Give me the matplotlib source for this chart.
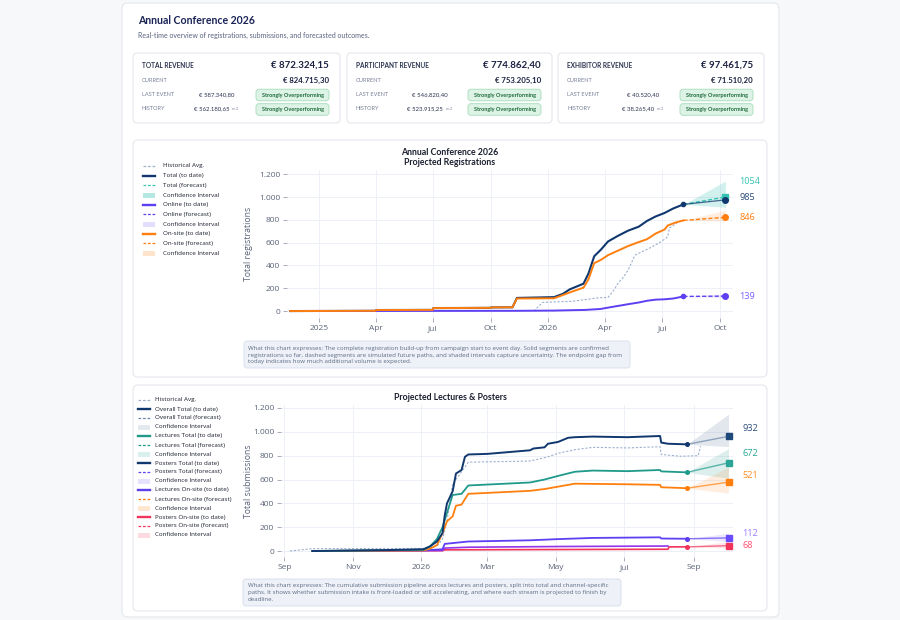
import numpy as np
import pandas as pd
import matplotlib
matplotlib.use("Agg")
import matplotlib.pyplot as plt
from matplotlib.patches import FancyBboxPatch, Rectangle
from matplotlib.lines import Line2D
from matplotlib.transforms import Affine2D
from matplotlib.ticker import FuncFormatter

plt.rcParams['font.family'] = ['Open Sans', 'DejaVu Sans']
HEAD = ['Lato', 'DejaVu Sans']

# ---- KPI cards
card_titles = ["TOTAL REVENUE", "PARTICIPANT REVENUE", "EXHIBITOR REVENUE"]
card_totals = ["€ 872.324,15", "€ 774.862,40", "€ 97.461,75"]
card_current = ["€ 824.715,30", "€ 753.205,10", "€ 71.510,20"]
card_last = ["€ 587.340,80", "€ 546.820,40", "€ 40.520,40"]
card_history = ["€ 562.180,65", "€ 523.915,25", "€ 38.265,40"]
badge_text = "Strongly Overperforming"

# ---- chart 1: registrations
reg_total_dates = ["2024-11-16", "2025-04-01", "2025-04-02", "2025-07-01", "2025-07-02",
                   "2025-10-01", "2025-10-02", "2025-11-05", "2025-11-12", "2026-01-10",
                   "2026-01-24", "2026-02-04", "2026-02-15", "2026-02-26", "2026-03-06",
                   "2026-03-15", "2026-03-26", "2026-04-06", "2026-04-22", "2026-05-08",
                   "2026-05-25", "2026-06-07", "2026-06-21", "2026-07-05", "2026-07-19",
                   "2026-08-04"]
reg_total = [0, 2, 9, 10, 26, 28, 32, 33, 115, 122, 150, 190, 215, 240, 330, 480, 540,
             610, 660, 705, 740, 790, 830, 860, 900, 935]

reg_onsite_dates = ["2024-11-16", "2025-04-01", "2025-04-02", "2025-07-01", "2025-07-02",
                    "2025-10-01", "2025-10-02", "2025-11-05", "2025-11-12", "2026-01-10",
                    "2026-01-24", "2026-02-10", "2026-02-26", "2026-03-06", "2026-03-15",
                    "2026-03-26", "2026-04-06", "2026-04-22", "2026-05-08", "2026-05-25",
                    "2026-06-07", "2026-06-21", "2026-07-05", "2026-07-10", "2026-07-22",
                    "2026-08-04"]
reg_onsite = [0, 2, 9, 10, 26, 28, 32, 33, 110, 112, 140, 175, 205, 280, 420, 450, 490,
              530, 570, 605, 630, 680, 715, 750, 775, 795]

reg_online_dates = ["2024-11-16", "2025-11-12", "2026-01-10", "2026-03-01", "2026-03-25",
                    "2026-04-06", "2026-04-22", "2026-05-08", "2026-05-25", "2026-06-07",
                    "2026-06-21", "2026-07-05", "2026-07-19", "2026-08-04"]
reg_online = [0, 2, 4, 10, 18, 30, 45, 60, 75, 90, 100, 103, 110, 128]

reg_hist_dates = ["2025-12-09", "2025-12-23", "2026-01-20", "2026-02-07", "2026-03-01",
                  "2026-03-20", "2026-04-06", "2026-04-15", "2026-04-22", "2026-05-01",
                  "2026-05-08", "2026-05-19", "2026-05-30", "2026-06-14", "2026-06-30",
                  "2026-07-10", "2026-07-13", "2026-07-25"]
reg_hist = [0, 76, 82, 85, 100, 115, 120, 180, 243, 300, 360, 490, 520, 560, 610, 650, 730, 770]

reg_today = "2026-08-04"
reg_end = "2026-10-10"
reg_fc_total = 1000      # teal forecast endpoint
reg_fc_total_line = 975  # navy projection endpoint
reg_fc_onsite = 822
reg_fc_online = 131
reg_ci_total = (910, 1140)
reg_ci_onsite = (790, 885)
reg_ci_online = (115, 150)
reg_end_labels = ["1054", "985", "846", "139"]

reg_tick_dates = ["2025-01-01", "2025-04-01", "2025-07-01", "2025-10-01",
                  "2026-01-01", "2026-04-01", "2026-07-01", "2026-10-01"]
reg_tick_labels = ["2025", "Apr", "Jul", "Oct", "2026", "Apr", "Jul", "Oct"]

# ---- chart 2: submissions
sub_overall_dates = ["2025-09-26", "2025-10-20", "2025-12-01", "2026-01-03", "2026-01-09",
                     "2026-01-15", "2026-01-20", "2026-01-22", "2026-01-24", "2026-01-29",
                     "2026-02-01", "2026-02-06", "2026-02-09", "2026-02-12", "2026-03-01",
                     "2026-04-08", "2026-04-11", "2026-04-21", "2026-04-24", "2026-05-03",
                     "2026-05-12", "2026-05-18", "2026-06-03", "2026-07-04", "2026-08-02",
                     "2026-08-03", "2026-08-09", "2026-08-26"]
sub_overall = [0, 3, 8, 15, 40, 80, 150, 300, 400, 500, 650, 680, 790, 810, 815, 845, 860,
               870, 900, 915, 950, 955, 960, 955, 965, 910, 900, 895]

sub_hist_dates = ["2025-09-06", "2025-09-26", "2026-01-03", "2026-01-15", "2026-01-20",
                  "2026-01-24", "2026-01-29", "2026-02-01", "2026-02-06", "2026-02-12",
                  "2026-04-08", "2026-04-24", "2026-05-03", "2026-05-18", "2026-06-03",
                  "2026-07-04", "2026-08-02", "2026-08-03", "2026-08-20", "2026-09-05",
                  "2026-09-07"]
sub_hist = [0, 20, 22, 40, 100, 250, 560, 600, 665, 745, 755, 790, 820, 850, 870, 865, 875,
            810, 795, 800, 880]

sub_lect_dates = ["2025-09-26", "2026-01-03", "2026-01-09", "2026-01-15", "2026-01-20",
                  "2026-01-24", "2026-01-29", "2026-02-06", "2026-02-12", "2026-04-08",
                  "2026-04-21", "2026-05-03", "2026-05-18", "2026-06-03", "2026-07-04",
                  "2026-08-02", "2026-08-03", "2026-08-26"]
sub_lect = [0, 10, 40, 100, 200, 320, 470, 480, 550, 575, 600, 630, 665, 675, 670, 680, 668, 660]

sub_onsite_dates = ["2025-09-26", "2026-01-03", "2026-01-09", "2026-01-15", "2026-01-20",
                    "2026-01-24", "2026-01-29", "2026-02-01", "2026-02-06", "2026-02-12",
                    "2026-04-08", "2026-04-21", "2026-05-03", "2026-05-18", "2026-07-04",
                    "2026-08-02", "2026-08-03", "2026-08-26"]
sub_onsite = [0, 5, 20, 50, 150, 250, 290, 380, 390, 480, 505, 520, 540, 565, 560, 555, 535, 527]

sub_lect_onsite_dates = ["2025-09-26", "2026-01-03", "2026-01-20", "2026-01-22", "2026-02-12",
                         "2026-04-08", "2026-05-03", "2026-06-03", "2026-08-02", "2026-08-03",
                         "2026-08-26"]
sub_lect_onsite = [0, 5, 15, 60, 80, 90, 100, 110, 115, 105, 103]

sub_post_online_dates = ["2025-09-26", "2026-01-20", "2026-01-22", "2026-02-12", "2026-05-03",
                         "2026-08-09"]
sub_post_online = [0, 5, 25, 32, 38, 42]

sub_post_onsite_dates = ["2025-09-26", "2026-01-20", "2026-01-22", "2026-04-08", "2026-08-09",
                         "2026-08-10", "2026-08-26"]
sub_post_onsite = [0, 3, 10, 12, 15, 35, 35]

sub_today = "2026-08-26"
sub_end = "2026-10-02"
sub_fc = {"overall": 962, "lect": 740, "onsite": 578, "lect_onsite": 110, "post_onsite": 45}
sub_ci = {"overall": (876, 1148), "lect": (610, 860), "onsite": (485, 705),
          "lect_onsite": (80, 150), "post_onsite": (25, 80)}
sub_end_labels = ["932", "672", "521", "112", "68"]

sub_tick_dates = ["2025-09-01", "2025-11-01", "2026-01-01", "2026-03-01",
                  "2026-05-01", "2026-07-01", "2026-09-01"]
sub_tick_labels = ["Sep", "Nov", "2026", "Mar", "May", "Jul", "Sep"]

desc1 = ("What this chart expresses: The complete registration build-up from campaign start to event day. Solid segments are confirmed\n"
         "registrations so far, dashed segments are simulated future paths, and shaded intervals capture uncertainty. The endpoint gap from\n"
         "today indicates how much additional volume is expected.")
desc2 = ("What this chart expresses: The cumulative submission pipeline across lectures and posters, split into total and channel-specific\n"
         "paths. It shows whether submission intake is front-loaded or still accelerating, and where each stream is projected to finish by\n"
         "deadline.")

# colours
NAVY = "#11386e"
TEAL = "#35c2b2"
ORANGE = "#ff7f0e"
PURPLE = "#5f3ff2"
HIST = "#9fb0cf"
TEAL2 = "#1f9a8a"
SLATE = "#6c87a8"
RED = "#f2345a"
MAGENTA = "#9333ea"
TICK = "#5b6478"
GRID = "#eef0f7"

fig = plt.figure(figsize=(9, 6.2), dpi=100)
fig.patch.set_facecolor("#f7f8fa")
# image pixel coords (y down)
pix = Affine2D().scale(1 / 100, -1 / 100).translate(0, 6.2) + fig.dpi_scale_trans


def box(x0, y0, x1, y1, fc="white", ec="#e4e7ec", r=4, lw=0.8, z=0):
    p = FancyBboxPatch((x0, y0), x1 - x0, y1 - y0,
                       boxstyle="round,pad=0,rounding_size=%g" % r,
                       transform=pix, fc=fc, ec=ec, lw=lw, zorder=z)
    fig.add_artist(p)


def txt(x, y, s, **kw):
    kw.setdefault("va", "center")
    fig.text(x, y, s, transform=pix, **kw)


box(122, 3, 779, 617, r=6)
txt(138, 20, "Annual Conference 2026", fontsize=7.6, fontweight="bold", color="#1a2456", family=HEAD)
txt(138, 35, "Real-time overview of registrations, submissions, and forecasted outcomes.",
    fontsize=5, color="#5a6380", family=HEAD)

card_x = [(133, 340), (347, 552), (558, 764)]
for i, (x0, x1) in enumerate(card_x):
    box(x0, 53, x1, 123, r=4)
    txt(x0 + 9, 65, card_titles[i], fontsize=4.7, fontweight="bold", color="#2b3350", family=HEAD)
    txt(x1 - 11, 65, card_totals[i], fontsize=7, fontweight="bold", color="#1b2040", ha="right", family=HEAD)
    txt(x0 + 9, 80, "CURRENT", fontsize=4.1, color="#7a8199", family=HEAD)
    txt(x1 - 11, 80, card_current[i], fontsize=5.6, fontweight="bold", color="#1b2040", ha="right", family=HEAD)
    txt(x0 + 9, 95, "LAST EVENT", fontsize=4.1, color="#7a8199", family=HEAD)
    txt(x0 + 101, 95, card_last[i], fontsize=4.3, color="#2b3350", ha="right", family=HEAD)
    txt(x0 + 9, 109, "HISTORY", fontsize=4.1, color="#7a8199", family=HEAD)
    txt(x0 + 96, 109, card_history[i], fontsize=4.3, color="#2b3350", ha="right", family=HEAD)
    txt(x0 + 99, 109.5, "n=2", fontsize=3.2, color="#8a90a6", family=HEAD)
    for by in (95, 109.5):
        box(x1 - 84, by - 5.8, x1 - 11, by + 5.8, fc="#dcf3e5", ec="#a6dcb9", r=3, lw=0.6)
        txt(x1 - 47.5, by, badge_text, fontsize=4, fontweight="bold", color="#1f6b3b", ha="center",
            family=HEAD)

box(133, 140, 767, 377, r=5)
box(133, 385, 767, 611, r=5)


def legend(entries, x0, y0, step, tx):
    for k, (lab, kind, col) in enumerate(entries):
        y = y0 + k * step
        if kind == "fill":
            fig.add_artist(Rectangle((x0, y - 2.5), 12, 5, transform=pix, fc=col, ec="none"))
        else:
            ls = "--" if kind == "dash" else "-"
            lw = 0.9 if kind == "dash" else 1.7
            fig.add_artist(Line2D([x0, x0 + 12], [y, y], transform=pix, color=col, lw=lw, ls=ls,
                                  dashes=(2.2, 1.4) if kind == "dash" else (None, None)))
        txt(tx, y, lab, fontsize=4.5, color="#1a1f2e")


def style_axes(ax, tick_dates, tick_labels, ylabel, ylim, xlim, lpad=4):
    ax.set_facecolor("white")
    for s in ax.spines.values():
        s.set_visible(False)
    ax.set_xlim(pd.to_datetime(xlim[0]), pd.to_datetime(xlim[1]))
    ax.set_ylim(*ylim)
    ax.set_yticks([0, 200, 400, 600, 800, 1000, 1200])
    ax.yaxis.set_major_formatter(FuncFormatter(lambda v, p: f"{int(v):,}".replace(",", ".")))
    ax.set_xticks(pd.to_datetime(tick_dates))
    ax.set_xticklabels(tick_labels)
    ax.grid(True, color=GRID, lw=0.7)
    ax.set_axisbelow(True)
    ax.tick_params(axis="both", colors="#9aa0b0", labelcolor=TICK, labelsize=6, length=3, width=0.6, pad=2)
    ax.set_ylabel(ylabel, fontsize=6.3, color=TICK, labelpad=lpad)


def d(s):
    return pd.to_datetime(s)


# ---------------- chart 1
ax1 = fig.add_axes([287 / 900, 1 - 318 / 620, 446 / 900, 148 / 620])
style_axes(ax1, reg_tick_dates, reg_tick_labels, "Total registrations", (-61, 1237),
           ("2024-11-11", "2026-10-22"))
txt(450, 152.5, "Annual Conference 2026", fontsize=6.3, fontweight="bold", color="#1b1f2e",
    ha="center", family=HEAD)
txt(450, 162.5, "Projected Registrations", fontsize=6.3, fontweight="bold", color="#1b1f2e",
    ha="center", family=HEAD)

tx = [d(reg_today), d(reg_end)]
ax1.fill_between(tx, [reg_total[-1], reg_ci_total[0]], [reg_total[-1], reg_ci_total[1]],
                 color=TEAL, alpha=0.22, lw=0)
ax1.fill_between(tx, [reg_onsite[-1], reg_ci_onsite[0]], [reg_onsite[-1], reg_ci_onsite[1]],
                 color=ORANGE, alpha=0.13, lw=0)
ax1.fill_between(tx, [reg_online[-1], reg_ci_online[0]], [reg_online[-1], reg_ci_online[1]],
                 color=PURPLE, alpha=0.1, lw=0)
ax1.plot(d(reg_hist_dates), reg_hist, color=HIST, lw=0.8, ls=(0, (2, 1.5)))
ax1.plot(d(reg_total_dates), reg_total, color=NAVY, lw=1.5)
ax1.plot(d(reg_online_dates), reg_online, color=PURPLE, lw=1.4)
ax1.plot(d(reg_onsite_dates), reg_onsite, color=ORANGE, lw=1.4)
ax1.plot(tx, [reg_total[-1], reg_fc_total], color=TEAL, lw=1, ls=(0, (3, 1.5)))
ax1.plot(tx, [reg_total[-1], reg_fc_total_line], color=NAVY, lw=0.9, alpha=0.75)
ax1.plot(tx, [reg_onsite[-1], reg_fc_onsite], color=ORANGE, lw=1, ls=(0, (3, 1.5)))
ax1.plot(tx, [reg_online[-1], reg_fc_online], color=PURPLE, lw=1, ls=(0, (3, 1.5)))
ax1.plot([tx[0]], [reg_total[-1]], "o", color=NAVY, ms=3)
ax1.plot([tx[0]], [reg_online[-1]], "o", color=PURPLE, ms=3)
ax1.plot([tx[1]], [reg_fc_total], "s", color=TEAL, ms=3.8)
ax1.plot([tx[1]], [reg_fc_total_line], "o", color=NAVY, ms=4)
ax1.plot([tx[1]], [reg_fc_onsite], "o", color=ORANGE, ms=4)
ax1.plot([tx[1]], [reg_fc_online], "o", color=PURPLE, ms=4)

label_vals1 = [reg_fc_total, reg_fc_total_line, reg_fc_onsite, reg_fc_online]
label_cols1 = [TEAL, "#2b4a7a", ORANGE, "#7b5cff"]
label_dy1 = [11, 1.5, 0, 0]
for s, v, c, dy in zip(reg_end_labels, label_vals1, label_cols1, label_dy1):
    ax1.annotate(s, xy=(tx[1], v), xytext=(10, dy), textcoords="offset points", fontsize=6.6,
                 color=c, va="center", ha="left", annotation_clip=False)

legend([("Historical Avg.", "dash", HIST), ("Total (to date)", "solid", NAVY),
        ("Total (forecast)", "dash", TEAL), ("Confidence Interval", "fill", "#b4e8e1"),
        ("Online (to date)", "solid", PURPLE), ("Online (forecast)", "dash", PURPLE),
        ("Confidence Interval", "fill", "#e4defc"), ("On-site (to date)", "solid", ORANGE),
        ("On-site (forecast)", "dash", ORANGE), ("Confidence Interval", "fill", "#ffe4cc")],
       143, 166, 9.67, 163)

box(244, 341, 630, 368, fc="#eef2f8", ec="#d6ddea", r=3, lw=0.6)
txt(248.5, 355, desc1, fontsize=4.4, color="#5f6b85", linespacing=1.4)

# ---------------- chart 2
ax2 = fig.add_axes([281 / 900, 1 - 557 / 620, 452 / 900, 152 / 620])
style_axes(ax2, sub_tick_dates, sub_tick_labels, "Total submissions", (-50, 1225),
           ("2025-08-29", "2026-10-06"), lpad=0)
txt(450, 397, "Projected Lectures & Posters", fontsize=6.3, fontweight="bold", color="#1b1f2e",
    ha="center", family=HEAD)

tx2 = [d(sub_today), d(sub_end)]
series2 = [("overall", sub_overall, NAVY, SLATE, "#6c87a8", 0.2),
           ("lect", sub_lect, TEAL2, TEAL2, TEAL2, 0.15),
           ("onsite", sub_onsite, ORANGE, ORANGE, ORANGE, 0.13),
           ("lect_onsite", sub_lect_onsite, PURPLE, PURPLE, PURPLE, 0.12),
           ("post_onsite", sub_post_onsite, RED, RED, RED, 0.12)]
for key, vals, col, fcol, cicol, a in series2:
    lo, hi = sub_ci[key]
    ax2.fill_between(tx2, [vals[-1], lo], [vals[-1], hi], color=cicol, alpha=a, lw=0)

ax2.plot(d(sub_hist_dates), sub_hist, color=HIST, lw=0.8, ls=(0, (2, 1.5)))
ax2.plot(d(sub_post_onsite_dates), sub_post_onsite, color=RED, lw=1.2)
ax2.plot(d(sub_post_online_dates), sub_post_online, color=MAGENTA, lw=1.2)
ax2.plot(d(sub_lect_onsite_dates), sub_lect_onsite, color=PURPLE, lw=1.3)
ax2.plot(d(sub_onsite_dates), sub_onsite, color=ORANGE, lw=1.3)
ax2.plot(d(sub_lect_dates), sub_lect, color=TEAL2, lw=1.3)
ax2.plot(d(sub_overall_dates), sub_overall, color=NAVY, lw=1.4)

label_cols2 = ["#2d4f7c", "#2aa596", "#ff8c1a", "#9a7cff", "#ff4d6d"]
label_dy2 = [6, 6.5, 5, 3.5, 0]
end_cols = ["#1d4a7a", "#2aa596", ORANGE, "#6a4cff", RED]
for (key, vals, col, fcol, cicol, a), s, lc, dy, ec in zip(series2, sub_end_labels, label_cols2,
                                                          label_dy2, end_cols):
    ax2.plot(tx2, [vals[-1], sub_fc[key]], color=fcol, lw=1, alpha=0.7)
    ax2.plot([tx2[0]], [vals[-1]], "o", color=col, ms=2.6)
    ax2.plot([tx2[1]], [sub_fc[key]], "s", color=ec, ms=3.8)
    ax2.annotate(s, xy=(tx2[1], sub_fc[key]), xytext=(10, dy), textcoords="offset points",
                 fontsize=6.6, color=lc, va="center", ha="left", annotation_clip=False)

legend([("Historical Avg.", "dash", HIST), ("Overall Total (to date)", "solid", NAVY),
        ("Overall Total (forecast)", "dash", SLATE), ("Confidence Interval", "fill", "#e3e9ef"),
        ("Lectures Total (to date)", "solid", TEAL2), ("Lectures Total (forecast)", "dash", TEAL2),
        ("Confidence Interval", "fill", "#daf0ec"), ("Posters Total (to date)", "solid", NAVY),
        ("Posters Total (forecast)", "dash", PURPLE), ("Confidence Interval", "fill", "#e6e1fd"),
        ("Lectures On-site (to date)", "solid", PURPLE), ("Lectures On-site (forecast)", "dash", ORANGE),
        ("Confidence Interval", "fill", "#ffe6d1"), ("Posters On-site (to date)", "solid", RED),
        ("Posters On-site (forecast)", "dash", RED), ("Confidence Interval", "fill", "#fdd9e0")],
       138, 400, 9.0, 155)

box(243, 579, 621, 606, fc="#eef2f8", ec="#d6ddea", r=3, lw=0.6)
txt(247.5, 592.5, desc2, fontsize=4.4, color="#5f6b85", linespacing=1.4)

fig.savefig("out.png", dpi=100, facecolor=fig.get_facecolor())
